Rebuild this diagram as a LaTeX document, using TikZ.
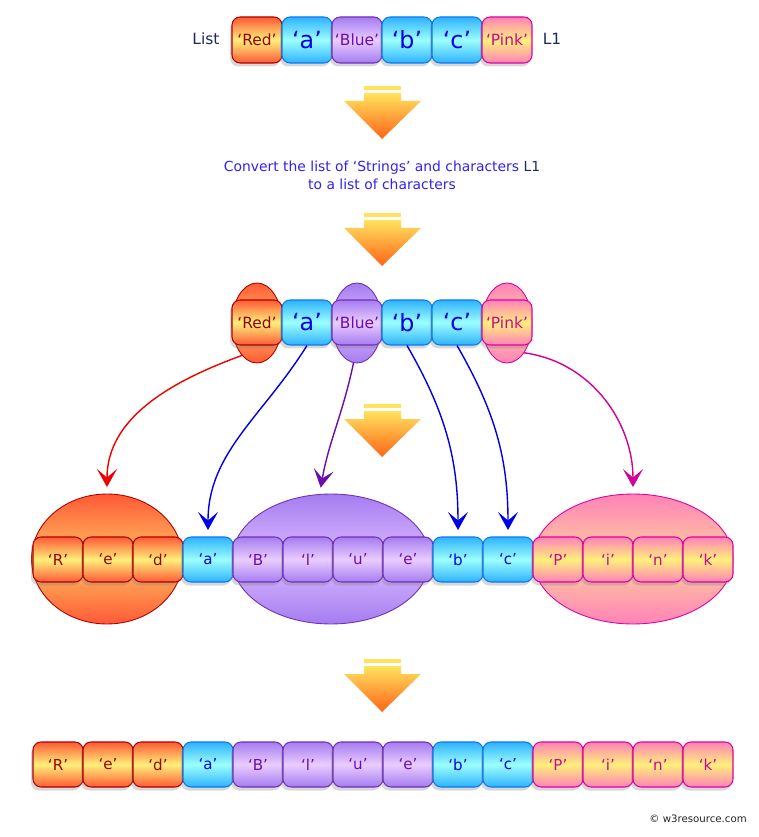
\documentclass[tikz,border=0pt]{standalone}
\usepackage{fontspec}
\setmainfont{DejaVu Sans}
\usetikzlibrary{shapes.geometric,shadows,arrows.meta}
\definecolor{redtop}{HTML}{FF5A36}
\definecolor{redmid}{HTML}{FFEF7A}
\definecolor{redblob}{HTML}{FFC262}
\definecolor{redline}{HTML}{B00000}
\definecolor{redtext}{HTML}{990000}
\definecolor{cyantop}{HTML}{2EB2FF}
\definecolor{cyanmid}{HTML}{9CFFFF}
\definecolor{cyanline}{HTML}{0A78F0}
\definecolor{cyantext}{HTML}{0000E6}
\definecolor{purptop}{HTML}{A57CF0}
\definecolor{purpmid}{HTML}{EBCCFF}
\definecolor{purpblob}{HTML}{DCBCFF}
\definecolor{purpline}{HTML}{7030B8}
\definecolor{purptext}{HTML}{6A0DAD}
\definecolor{pinktop}{HTML}{FF82B8}
\definecolor{pinkmid}{HTML}{FFF07A}
\definecolor{pinkblob}{HTML}{FFD29C}
\definecolor{pinkline}{HTML}{E000A0}
\definecolor{pinktext}{HTML}{D10096}
\definecolor{navy}{HTML}{1C2A5C}
\definecolor{convblue}{HTML}{3322EE}
\definecolor{arrtop}{HTML}{FFE35E}
\definecolor{arrbot}{HTML}{FF6418}
\tikzset{
  cell/.style={rectangle, rounded corners=0.16cm, minimum width=1cm,
    minimum height=0.9cm, inner sep=0pt, line width=0.6pt,
    drop shadow={shadow xshift=-0.04cm, shadow yshift=-0.07cm, opacity=0.3}},
  redcell/.style={cell, draw=redline, top color=redtop, bottom color=redtop,
    middle color=redmid, text=redtext},
  cyancell/.style={cell, draw=cyanline, top color=cyantop, bottom color=cyantop,
    middle color=cyanmid, text=cyantext},
  purpcell/.style={cell, draw=purpline, top color=purptop, bottom color=purptop,
    middle color=purpmid, text=purptext},
  pinkcell/.style={cell, draw=pinkline, top color=pinktop, bottom color=pinktop,
    middle color=pinkmid, text=pinktext},
  wordf/.style={font=\fontsize{8.8}{10}\selectfont},
  charf/.style={font=\fontsize{13.5}{15}\selectfont},
  smallf/.style={font=\fontsize{8.6}{10}\selectfont},
  blob/.style={ellipse, inner sep=0pt, line width=0.5pt},
  redblob/.style={blob, draw=redline, top color=redtop, bottom color=redtop,
    middle color=redblob},
  purpblob/.style={blob, draw=purpline, top color=purptop, bottom color=purptop,
    middle color=purpblob},
  pinkblob/.style={blob, draw=pinkline, top color=pinktop, bottom color=pinktop,
    middle color=pinkblob},
  link/.style={line width=0.8pt, shorten >=0.13cm,
    -{Stealth[length=0.36cm, width=0.4cm, inset=0.17cm]}},
  bigarrow/.pic={
    \fill[arrtop] (-18,0) rectangle (19,4);
    \shade[top color=arrtop, bottom color=arrbot] (-18,7) -- (19,7) -- (19,15)
      -- (39,15) -- (0,53) -- (-38,15) -- (-18,15) -- cycle;
  }
}

\begin{document}
\begin{tikzpicture}[x=0.02cm, y=-0.02cm]
  \path[use as bounding box, fill=white] (0,0) rectangle (758,837);

  % given list L1
  \node[text=navy, wordf] (lst) at (206,39) {List};
  \foreach \lbl/\sty/\fnt [count=\i] in {‘Red’/redcell/wordf, ‘a’/cyancell/charf,
      ‘Blue’/purpcell/wordf, ‘b’/cyancell/charf, ‘c’/cyancell/charf, ‘Pink’/pinkcell/wordf}
    \node[\sty, \fnt, minimum height=0.92cm] (t\i) at (207+50*\i,40) {\lbl};
  \node[text=navy, wordf] (lone) at (552,39) {L1};

  \pic at (382,86) {bigarrow};
  \node[text=convblue, align=center, font=\fontsize{7.9}{10.2}\selectfont] (conv) at (382,175)
    {Convert the list of ‘Strings’ and characters \textcolor{navy}{L1}\\to a list of characters};
  \pic at (382,213) {bigarrow};

  % the strings picked out
  \node[redblob, minimum width=1cm, minimum height=1.6cm] (mre) at (257,323) {};
  \node[purpblob, minimum width=1cm, minimum height=1.6cm] (mbe) at (357,323) {};
  \node[pinkblob, minimum width=1cm, minimum height=1.6cm] (mpe) at (507,323) {};
  \foreach \lbl/\sty/\fnt [count=\i] in {‘Red’/redcell/wordf, ‘a’/cyancell/charf,
      ‘Blue’/purpcell/wordf, ‘b’/cyancell/charf, ‘c’/cyancell/charf, ‘Pink’/pinkcell/wordf}
    \node[\sty, \fnt] (m\i) at (207+50*\i,322.5) {\lbl};

  \pic at (382,404) {bigarrow};

  % split into characters
  \node[redblob, minimum width=3.02cm, minimum height=2.6cm] (bre) at (107,559) {};
  \node[purpblob, minimum width=3.96cm, minimum height=2.6cm] (bbe) at (331,559) {};
  \node[pinkblob, minimum width=4cm, minimum height=2.6cm] (bpe) at (633,559) {};
  \foreach \ch/\sty [count=\i] in {R/redcell, e/redcell, d/redcell, a/cyancell,
      B/purpcell, l/purpcell, u/purpcell, e/purpcell, b/cyancell, c/cyancell,
      P/pinkcell, i/pinkcell, n/pinkcell, k/pinkcell}
    \node[\sty, smallf] (c\i) at (8+50*\i,559.5) {‘\ch’};

  \draw[link, red!93!black] (mre.245) to[out=200, in=90] (bre.north);
  \draw[link, cyantext] (m2.south) to[out=238, in=90] (c4.north);
  \draw[link, purptext] (mbe.265) to[out=258, in=80] (bbe.100);
  \draw[link, cyantext] (m4.south) to[out=-60, in=90] (c9.north);
  \draw[link, cyantext] (m5.south) to[out=-60, in=90] (c10.north);
  \draw[link, pinktext] (mpe.-60) to[out=-8, in=90] (bpe.north);

  \pic at (382,659) {bigarrow};

  % resulting list
  \foreach \ch/\sty [count=\i] in {R/redcell, e/redcell, d/redcell, a/cyancell,
      B/purpcell, l/purpcell, u/purpcell, e/purpcell, b/cyancell, c/cyancell,
      P/pinkcell, i/pinkcell, n/pinkcell, k/pinkcell}
    \node[\sty, smallf] (b\i) at (8+50*\i,764.5) {‘\ch’};

  \node[font=\fontsize{5.8}{7}\selectfont, text=black!85] (mark) at (698,819) {© w3resource.com};
\end{tikzpicture}
\end{document}
